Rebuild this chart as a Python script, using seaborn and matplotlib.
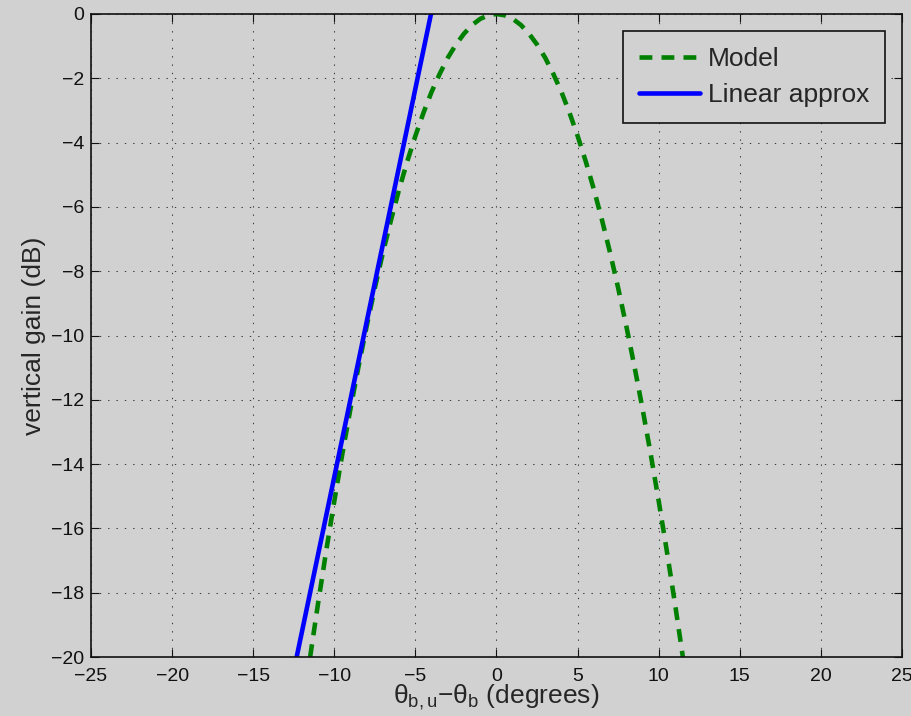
import matplotlib
matplotlib.use("Agg")
import matplotlib.pyplot as plt
import seaborn as sns
import pandas as pd

# ---- data ----
model_x = [-11.49, -11.0, -10.5, -10.0, -9.5, -9.0, -8.5, -8.0, -7.5, -7.0, -6.5, -6.0,
           -5.5, -5.0, -4.5, -4.0, -3.5, -3.0, -2.5, -2.0, -1.5, -1.0, -0.5, 0.0,
           0.5, 1.0, 1.5, 2.0, 2.5, 3.0, 3.5, 4.0, 4.5, 5.0, 5.5, 6.0,
           6.5, 7.0, 7.5, 8.0, 8.5, 9.0, 9.5, 10.0, 10.5, 11.0, 11.49]
model_y = [-20.0, -18.33, -16.70, -15.15, -13.67, -12.27, -10.95, -9.70, -8.52, -7.42, -6.40, -5.45,
           -4.58, -3.79, -3.07, -2.42, -1.86, -1.36, -0.95, -0.61, -0.34, -0.15, -0.04, 0.0,
           -0.04, -0.15, -0.34, -0.61, -0.95, -1.36, -1.86, -2.42, -3.07, -3.79, -4.58, -5.45,
           -6.40, -7.42, -8.52, -9.70, -10.95, -12.27, -13.67, -15.15, -16.70, -18.33, -20.0]
linear_x = [-12.32, -4.04]
linear_y = [-20.0, 0.0]
series_names = ["Model", "Linear approx"]
x_ticks = [-25, -20, -15, -10, -5, 0, 5, 10, 15, 20, 25]
y_ticks = [-20, -18, -16, -14, -12, -10, -8, -6, -4, -2, 0]

BG = "#d1d1d1"
sns.set_style("ticks")
plt.rcParams["font.family"] = ["Liberation Sans", "DejaVu Sans"]
plt.rcParams["mathtext.fontset"] = "custom"
plt.rcParams["mathtext.rm"] = "Liberation Sans"
plt.rcParams["mathtext.it"] = "Liberation Sans"
plt.rcParams["mathtext.default"] = "regular"

df = pd.concat([
    pd.DataFrame({"x": model_x, "y": model_y, "series": series_names[0]}),
    pd.DataFrame({"x": linear_x, "y": linear_y, "series": series_names[1]}),
], ignore_index=True)

fig = plt.figure(figsize=(9.12, 7.16), dpi=100, facecolor=BG)
ax = fig.add_axes([91 / 912, 1 - 657 / 716, 811 / 912, 643 / 716])
ax.set_facecolor(BG)

palette = {series_names[0]: "#008000", series_names[1]: "#0000ff"}
dashes = {series_names[0]: (2.8, 2.0), series_names[1]: ""}
sns.lineplot(data=df, x="x", y="y", hue="series", style="series",
             hue_order=series_names, style_order=series_names,
             palette=palette, dashes=dashes, linewidth=3.3,
             estimator=None, sort=True, ax=ax, legend=True)

ax.set_xlim(-25, 25)
ax.set_ylim(-20, 0)
ax.set_xticks(x_ticks)
ax.set_yticks(y_ticks)
ax.grid(True, color="#3a3a3a", linestyle=(0, (1.3, 6.7)), linewidth=0.75)
ax.tick_params(direction="in", length=6, width=0.8, top=True, right=True,
               labelsize=14, colors="#111111")
ax.tick_params(axis="x", pad=8)
ax.tick_params(axis="y", pad=5)
for s in ax.spines.values():
    s.set_visible(True)
    s.set_color("#111111")
    s.set_linewidth(1.2)

ax.set_xlabel("$\u03b8_{b,u}$\u2212$\u03b8_b$ (degrees)", fontsize=19)
ax.set_ylabel("vertical gain (dB)", fontsize=19)
ax.xaxis.set_label_coords(0.5, -0.040)
ax.yaxis.set_label_coords(-0.055, 0.5)

old = ax.get_legend()
handles = old.legend_handles
labels = [t.get_text() for t in old.get_texts()]
old.remove()
for h, lab in zip(handles, labels):
    h.set_linewidth(3.3)
    h.set_color(palette[lab])
    if lab == series_names[0]:
        h.set_dashes((2.8, 2.0))
    else:
        h.set_linestyle("-")
leg = ax.legend(handles, labels, loc="upper right", fontsize=19,
                frameon=True, fancybox=False, framealpha=1, facecolor=BG,
                edgecolor="#111111", borderaxespad=0.65, borderpad=0.6,
                handlelength=2.3, handletextpad=0.3, labelspacing=0.45)
leg.get_frame().set_linewidth(1.2)

fig.savefig("out.png", dpi=100, facecolor=BG)
